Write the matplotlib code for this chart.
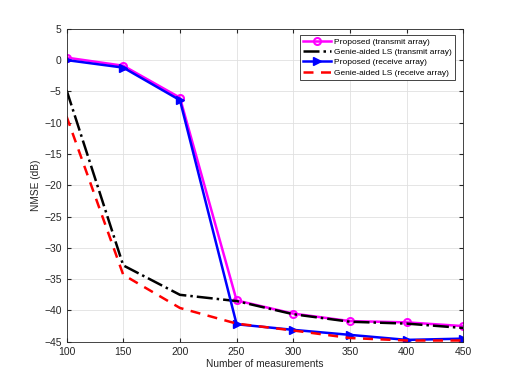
import matplotlib
matplotlib.use('Agg')
import matplotlib.pyplot as plt

# number of measurements
meas = [100, 150, 200, 250, 300, 350, 400, 450]

# NMSE values (dB)
prop_tx = [0.4, -0.9, -6.0, -38.4, -40.5, -41.7, -41.9, -42.5]
genie_tx = [-4.8, -32.8, -37.5, -38.5, -40.6, -41.8, -42.1, -42.8]
prop_rx = [0.0, -1.2, -6.4, -42.2, -43.1, -43.9, -44.7, -44.5]
genie_rx = [-9.0, -34.3, -39.6, -42.1, -43.2, -44.4, -44.8, -44.8]

labels = ['Proposed (transmit array)', 'Genie-aided LS (transmit array)',
          'Proposed (receive array)', 'Genie-aided LS (receive array)']

plt.rcParams['font.family'] = ['Liberation Sans', 'DejaVu Sans']

fig = plt.figure(figsize=(5.12, 3.84), dpi=100)
ax = fig.add_axes([0.13, 0.11, 0.775, 0.815])

ax.plot(meas, prop_tx, color='#ff00ff', lw=1.8, marker='o', ms=5,
        mfc='none', mew=1.5, label=labels[0])
ax.plot(meas, genie_tx, color='black', lw=1.8, ls='-.', label=labels[1])
ax.plot(meas, prop_rx, color='#0000ff', lw=1.8, marker='>', ms=6,
        mfc='#0000ff', label=labels[2])
ax.plot(meas, genie_rx, color='#ff0000', lw=1.8, ls=(0, (4, 3)), label=labels[3])

ax.set_xlim(100, 450)
ax.set_ylim(-45, 5)
ax.set_xticks(range(100, 451, 50))
ax.set_yticks(range(-45, 6, 5))
ax.grid(True, color='#e0e0e0', lw=0.6)
ax.set_axisbelow(True)
ax.tick_params(direction='in', labelsize=7.5, colors='#262626', length=3,
               top=True, right=True, labeltop=False, labelright=False)
for s in ax.spines.values():
    s.set_color('#262626')
    s.set_linewidth(0.6)

ax.set_xlabel('Number of measurements', fontsize=7.3, color='#262626', labelpad=2)
ax.set_ylabel('NMSE (dB)', fontsize=7.3, color='#262626', labelpad=2)

leg = ax.legend(loc='upper right', bbox_to_anchor=(455 / 512, 1 - 35 / 384),
                bbox_transform=fig.transFigure, borderaxespad=0,
                fontsize=6, fancybox=False, framealpha=1, edgecolor='#262626',
                handlelength=3.4, borderpad=0.35, labelspacing=0.3,
                handletextpad=0.35)
leg.get_frame().set_linewidth(0.6)

fig.savefig('out.png', dpi=100)
